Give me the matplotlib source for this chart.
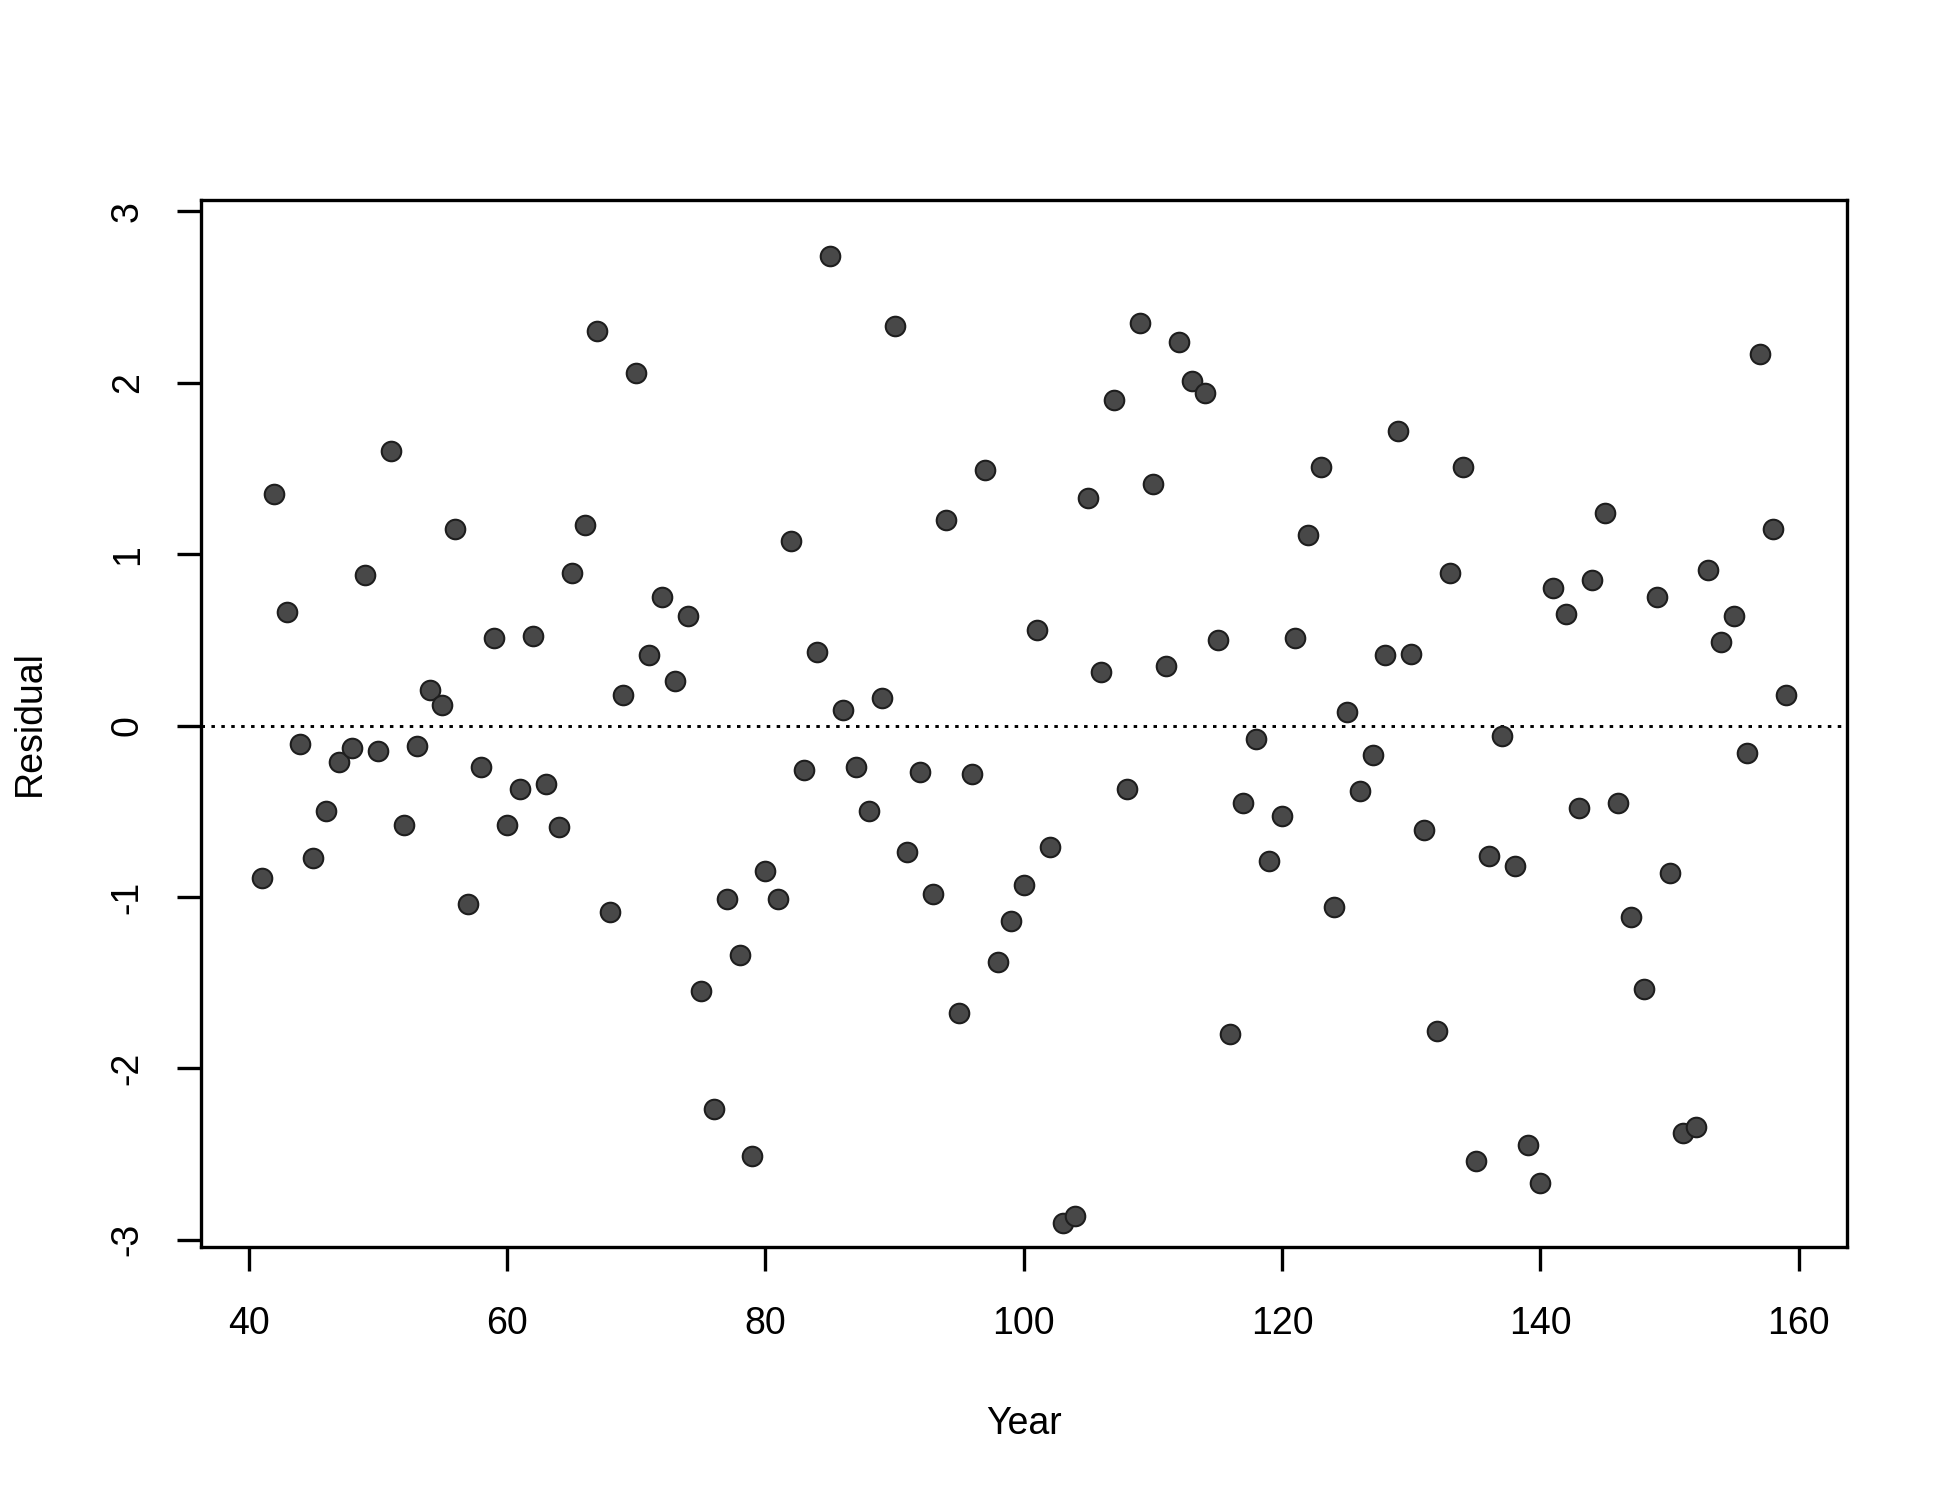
import numpy as np
import matplotlib.pyplot as plt

# year index of each residual
years = list(range(41, 160))

# residuals
residuals = [
    -0.89, 1.35, 0.66, -0.11, -0.77, -0.50, -0.21, -0.13, 0.88, -0.15,   # 41-50
    1.60, -0.58, -0.12, 0.21, 0.12, 1.15, -1.04, -0.24, 0.51, -0.58,     # 51-60
    -0.37, 0.52, -0.34, -0.59, 0.89, 1.17, 2.30, -1.09, 0.18, 2.06,      # 61-70
    0.41, 0.75, 0.26, 0.64, -1.55, -2.24, -1.01, -1.34, -2.51, -0.85,    # 71-80
    -1.01, 1.08, -0.26, 0.43, 2.74, 0.09, -0.24, -0.50, 0.16, 2.33,      # 81-90
    -0.74, -0.27, -0.98, 1.20, -1.68, -0.28, 1.49, -1.38, -1.14, -0.93,  # 91-100
    0.56, -0.71, -2.90, -2.86, 1.33, 0.31, 1.90, -0.37, 2.35, 1.41,      # 101-110
    0.35, 2.24, 2.01, 1.94, 0.50, -1.80, -0.45, -0.08, -0.79, -0.53,     # 111-120
    0.51, 1.11, 1.51, -1.06, 0.08, -0.38, -0.17, 0.41, 1.72, 0.42,       # 121-130
    -0.61, -1.78, 0.89, 1.51, -2.54, -0.76, -0.06, -0.82, -2.45, -2.67,  # 131-140
    0.80, 0.65, -0.48, 0.85, 1.24, -0.45, -1.12, -1.54, 0.75, -0.86,     # 141-150
    -2.38, -2.34, 0.91, 0.49, 0.64, -0.16, 2.17, 1.15, 0.18,             # 151-159
]

xticks = [40, 60, 80, 100, 120, 140, 160]
yticks = [-3, -2, -1, 0, 1, 2, 3]

plt.rcParams['font.family'] = ['Liberation Sans', 'DejaVu Sans']

fig = plt.figure(figsize=(13, 10), dpi=150)
ax = fig.add_axes([0.103, 0.169, 0.844, 0.698])

ax.scatter(years, residuals, s=88, c='#484848', edgecolors='#1e1e1e',
           linewidths=1.0, zorder=3)
# zero reference line
ax.axhline(0, color='black', linestyle=(0, (1.2, 2.2)), linewidth=1.4, zorder=2)

ax.set_xlim(36.3, 163.7)
ax.set_ylim(-3.04, 3.07)
ax.set_xticks(xticks)
ax.set_yticks(yticks)
ax.set_yticklabels([str(v) for v in yticks], rotation=90, va='center')

for side in ax.spines.values():
    side.set_linewidth(1.6)
ax.tick_params(axis='both', direction='out', length=11.5, width=1.6,
               labelsize=18, color='black')
ax.tick_params(axis='x', pad=17)
ax.tick_params(axis='y', pad=15)

ax.set_xlabel('Year', fontsize=18)
ax.set_ylabel('Residual', fontsize=18)
ax.xaxis.set_label_coords(0.5, -0.152)
ax.yaxis.set_label_coords(-0.093, 0.5)

fig.savefig('out.png', dpi=150, facecolor='white')
